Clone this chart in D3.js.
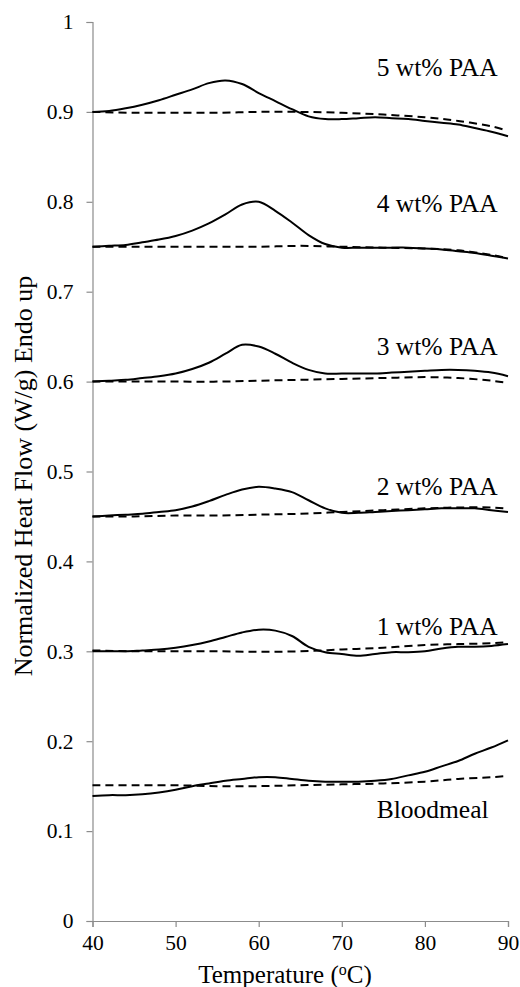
<!DOCTYPE html>
<html>
<head>
<meta charset="utf-8">
<script src="https://cdn.jsdelivr.net/npm/d3@7"></script>
<style>
  body { margin: 0; background: #fff; }
  svg text { font-family: 'Liberation Serif', 'Times New Roman', serif; }
</style>
</head>
<body>
<div class="chart"></div>
<script>

// temperature grid of the measured curves
var temps = [40, 42, 44, 46, 48, 50, 52, 54, 56, 58, 60, 62, 64, 66, 68, 70, 72, 74, 76, 78, 80, 82, 84, 86, 88, 90];

var paa5 = [0.900, 0.901, 0.904, 0.908, 0.913, 0.919, 0.925, 0.932, 0.935, 0.931, 0.921, 0.912, 0.903, 0.895, 0.892, 0.892, 0.893, 0.894, 0.893, 0.892, 0.890, 0.888, 0.886, 0.882, 0.878, 0.873];
var paa4 = [0.750, 0.751, 0.752, 0.755, 0.758, 0.762, 0.768, 0.776, 0.786, 0.797, 0.800, 0.790, 0.777, 0.763, 0.753, 0.749, 0.749, 0.749, 0.749, 0.749, 0.748, 0.747, 0.745, 0.743, 0.740, 0.737];
var paa3 = [0.600, 0.601, 0.602, 0.604, 0.606, 0.609, 0.614, 0.621, 0.631, 0.641, 0.639, 0.631, 0.621, 0.613, 0.609, 0.609, 0.609, 0.609, 0.610, 0.611, 0.612, 0.613, 0.613, 0.612, 0.610, 0.606];
var paa2 = [0.450, 0.451, 0.452, 0.453, 0.455, 0.457, 0.461, 0.467, 0.474, 0.480, 0.483, 0.481, 0.477, 0.468, 0.459, 0.454, 0.454, 0.455, 0.456, 0.457, 0.458, 0.459, 0.459, 0.459, 0.457, 0.455];
var paa1 = [0.300, 0.300, 0.300, 0.301, 0.302, 0.304, 0.307, 0.311, 0.316, 0.321, 0.324, 0.323, 0.317, 0.305, 0.299, 0.297, 0.295, 0.297, 0.299, 0.299, 0.300, 0.303, 0.305, 0.305, 0.306, 0.308];
var blood = [0.139, 0.140, 0.140, 0.141, 0.143, 0.146, 0.150, 0.153, 0.156, 0.158, 0.160, 0.160, 0.158, 0.156, 0.155, 0.155, 0.155, 0.156, 0.158, 0.162, 0.166, 0.172, 0.178, 0.186, 0.193, 0.201];

// baselines (dashed)
var baseTemps = [40, 45, 50, 55, 60, 65, 70, 75, 80, 84, 88, 89.6];
var base5 = [0.900, 0.899, 0.899, 0.899, 0.900, 0.900, 0.899, 0.897, 0.894, 0.890, 0.884, 0.880];
var base4 = [0.750, 0.750, 0.750, 0.750, 0.750, 0.751, 0.750, 0.749, 0.748, 0.746, 0.741, 0.738];
var base3 = [0.600, 0.600, 0.600, 0.600, 0.601, 0.602, 0.603, 0.604, 0.605, 0.604, 0.601, 0.599];
var base2 = [0.450, 0.450, 0.451, 0.451, 0.452, 0.453, 0.455, 0.457, 0.459, 0.460, 0.460, 0.459];
var base1 = [0.301, 0.300, 0.300, 0.300, 0.2995, 0.300, 0.302, 0.304, 0.307, 0.308, 0.309, 0.310];
var baseBlood = [0.151, 0.151, 0.151, 0.150, 0.150, 0.151, 0.152, 0.153, 0.155, 0.158, 0.160, 0.161];

// curve labels (placed in data units)
var labelNames = ['5 wt% PAA', '4 wt% PAA', '3 wt% PAA', '2 wt% PAA', '1 wt% PAA', 'Bloodmeal'];
var labelX = [74.2, 74.2, 74.2, 74.2, 74.2, 74.2];
var labelY = [0.940, 0.789, 0.630, 0.474, 0.318, 0.115];

var xTicks = [40, 50, 60, 70, 80, 90];
var yTicks = [0, 0.1, 0.2, 0.3, 0.4, 0.5, 0.6, 0.7, 0.8, 0.9, 1];

var solidSets = [paa5, paa4, paa3, paa2, paa1, blood];
var dashSets = [base5, base4, base3, base2, base1, baseBlood];

/////////////BUILD THE CHART//////////////////////////////////

var margin = { top: 22, right: 12, bottom: 66, left: 92.5 };
var width = 520 - margin.left - margin.right;
var height = 987 - margin.top - margin.bottom;
var axisColor = '#8c8c8c';
var font = 'Liberation Serif';

var svg = d3.select('.chart')
  .append('svg')
  .attr('width', width + margin.left + margin.right)
  .attr('height', height + margin.top + margin.bottom)
  .append('g')
  .attr('transform', 'translate(' + margin.left + ',' + margin.top + ')');

var xScale = d3.scaleLinear()
  .domain([40, 90])
  .range([0, width]);

var yScale = d3.scaleLinear()
  .domain([0, 1])
  .range([height, 0]);

// x axis
svg.append('g')
  .attr('class', 'xAxis')
  .attr('transform', `translate(0, ${height})`)
  .call(d3.axisBottom(xScale).tickValues(xTicks).tickSizeOuter(0).tickSize(6).tickPadding(8));

// y axis
svg.append('g')
  .attr('class', 'yAxis')
  .call(d3.axisLeft(yScale).tickValues(yTicks).tickFormat(d3.format('')).tickSizeOuter(0).tickSize(6).tickPadding(13));

svg.selectAll('.xAxis path, .yAxis path, .xAxis line, .yAxis line')
  .style('stroke', axisColor)
  .style('stroke-width', 1.2);

svg.selectAll('.xAxis text, .yAxis text')
  .style('font-family', font)
  .style('font-size', '21.5px')
  .style('fill', '#000');

// axis titles
svg.append('text')
  .attr('transform', 'translate(' + (192.5) + ' ,' + (height + 62) + ')')
  .style('text-anchor', 'middle')
  .style('font-family', font)
  .style('font-size', '25px')
  .text('Temperature (')
  .call(function (t) {
    t.append('tspan').attr('baseline-shift', 'super').style('font-size', '16px').text('o');
    t.append('tspan').text('C)');
  });

svg.append('text')
  .attr('transform', 'translate(' + (-margin.left + 32) + ',' + (476 - margin.top) + ') rotate(-90)')
  .style('text-anchor', 'middle')
  .style('font-family', font)
  .style('font-size', '26px')
  .text('Normalized Heat Flow (W/g) Endo up');

var solidLine = d3.line()
  .x((d, i) => xScale(temps[i]))
  .y(d => yScale(d))
  .curve(d3.curveCatmullRom.alpha(0.5));

var dashLine = d3.line()
  .x((d, i) => xScale(baseTemps[i]))
  .y(d => yScale(d))
  .curve(d3.curveCatmullRom.alpha(0.5));

svg.selectAll('.base')
  .data(dashSets)
  .enter()
  .append('path')
  .attr('class', 'base')
  .attr('d', d => dashLine(d))
  .style('stroke', '#000')
  .style('stroke-width', 2)
  .style('stroke-dasharray', '8,5')
  .style('fill', 'none');

svg.selectAll('.line')
  .data(solidSets)
  .enter()
  .append('path')
  .attr('class', 'line')
  .attr('d', d => solidLine(d))
  .style('stroke', '#000')
  .style('stroke-width', 2)
  .style('fill', 'none')
  .style('stroke-linejoin', 'round');

svg.selectAll('.label')
  .data(labelNames)
  .enter()
  .append('text')
  .attr('class', 'label')
  .attr('x', (d, i) => xScale(labelX[i]))
  .attr('y', (d, i) => yScale(labelY[i]))
  .style('font-family', font)
  .style('font-size', '25.5px')
  .text(d => d);

</script>
</body>
</html>
